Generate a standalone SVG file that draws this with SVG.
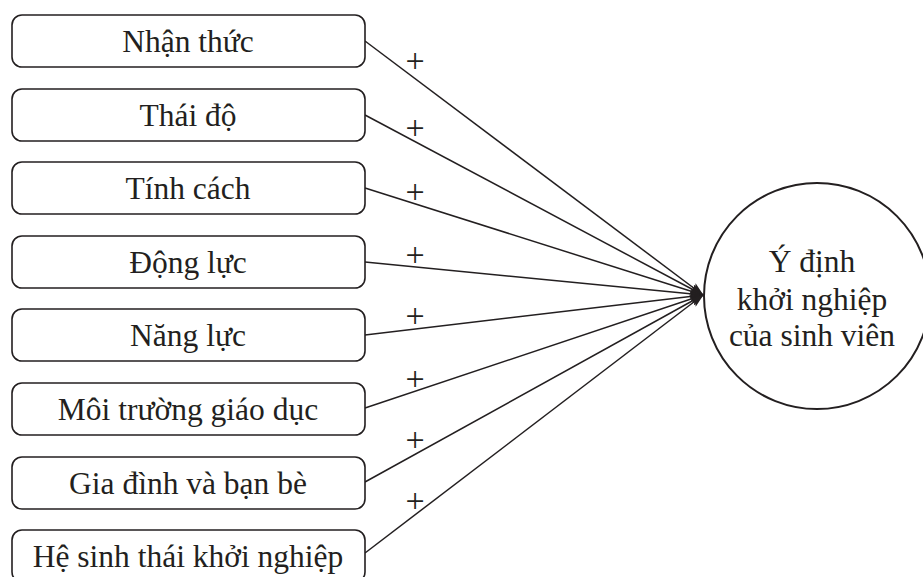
<svg xmlns="http://www.w3.org/2000/svg" width="923" height="577" viewBox="0 0 923 577">
<defs>
<style>
.box{fill:#fff;stroke:#231f20;stroke-width:1.6}
.lbl{font-family:"Liberation Serif","Times New Roman",serif;font-size:31.5px;fill:#231f20;text-anchor:middle}
.plus{font-family:"Liberation Serif","Times New Roman",serif;font-size:34px;fill:#231f20;text-anchor:middle}
.con{stroke:#231f20;stroke-width:1.5;fill:none;marker-end:url(#ah)}
</style>
<marker id="ah" markerWidth="14" markerHeight="10" refX="13" refY="5" orient="auto" markerUnits="userSpaceOnUse">
<path d="M0,0 L14,5 L0,10 L3,5 Z" fill="#231f20"/>
</marker>
</defs>
<rect width="923" height="577" fill="#fff"/>
<g id="connectors">
<line class="con" x1="365" y1="41" x2="703" y2="295"/>
<line class="con" x1="365" y1="115" x2="703" y2="295"/>
<line class="con" x1="365" y1="188" x2="703" y2="295"/>
<line class="con" x1="365" y1="262" x2="703" y2="295"/>
<line class="con" x1="365" y1="335" x2="703" y2="295"/>
<line class="con" x1="365" y1="408" x2="703" y2="295"/>
<line class="con" x1="365" y1="482" x2="703" y2="295"/>
<line class="con" x1="365" y1="553" x2="703" y2="295"/>
<text class="plus" x="415" y="72">+</text>
<text class="plus" x="415" y="139">+</text>
<text class="plus" x="415" y="203">+</text>
<text class="plus" x="415" y="266">+</text>
<text class="plus" x="415" y="327">+</text>
<text class="plus" x="415" y="390">+</text>
<text class="plus" x="415" y="451">+</text>
<text class="plus" x="415" y="512">+</text>
</g>
<g id="n1"><rect class="box" x="12" y="15" width="353" height="52" rx="10"/><text class="lbl" x="188" y="52">Nhận thức</text></g>
<g id="n2"><rect class="box" x="12" y="89" width="353" height="52" rx="10"/><text class="lbl" x="188" y="126">Thái độ</text></g>
<g id="n3"><rect class="box" x="12" y="162" width="353" height="52" rx="10"/><text class="lbl" x="188" y="199">Tính cách</text></g>
<g id="n4"><rect class="box" x="12" y="236" width="353" height="52" rx="10"/><text class="lbl" x="188" y="273">Động lực</text></g>
<g id="n5"><rect class="box" x="12" y="309" width="353" height="52" rx="10"/><text class="lbl" x="188" y="346">Năng lực</text></g>
<g id="n6"><rect class="box" x="12" y="383" width="353" height="52" rx="10"/><text class="lbl" x="188" y="420">Môi trường giáo dục</text></g>
<g id="n7"><rect class="box" x="12" y="457" width="353" height="52" rx="10"/><text class="lbl" x="188" y="494">Gia đình và bạn bè</text></g>
<g id="n8"><rect class="box" x="12" y="530" width="353" height="52" rx="10"/><text class="lbl" x="188" y="567">Hệ sinh thái khởi nghiệp</text></g>
<g id="target">
<circle cx="817" cy="296" r="113" fill="#fff" stroke="#231f20" stroke-width="2"/>
<text class="lbl" x="812" y="272">Ý định</text>
<text class="lbl" x="812" y="310">khởi nghiệp</text>
<text class="lbl" x="812" y="346">của sinh viên</text>
</g>
</svg>
